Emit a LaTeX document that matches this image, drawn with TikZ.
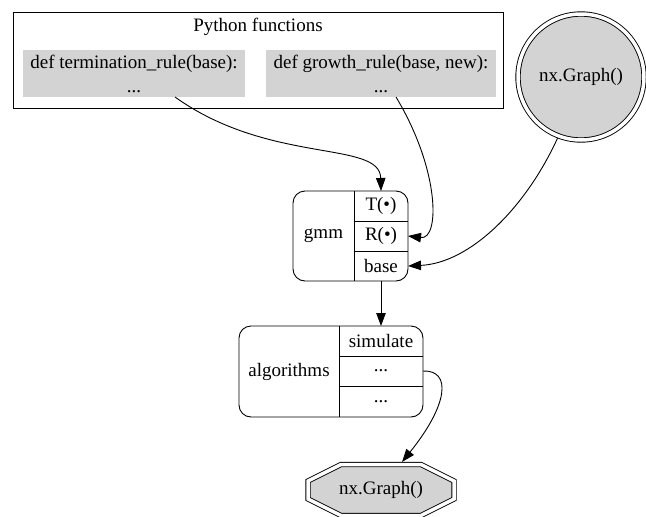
\documentclass[tikz,border=0pt]{standalone}
\usepackage{fontspec}
\setmainfont{Liberation Serif}
\usetikzlibrary{arrows.meta}
\definecolor{gvgray}{RGB}{211,211,211}
\begin{document}
\begin{tikzpicture}[x=1pt,y=-1pt,line width=0.9pt,
  font=\fontsize{19}{24}\selectfont,
  every node/.style={inner sep=0pt,outer sep=0pt},
  funbox/.style={fill=gvgray,align=center,minimum height=47pt},
  recbox/.style={draw,rounded corners=12pt},
  cell/.style={minimum width=#1,minimum height=30pt},
  dbl/.style={draw,double,double distance=3.5pt,fill=gvgray},
  link/.style={-{Triangle[length=13pt,width=9.5pt]}}]
\useasboundingbox (0,0) rectangle (646,517);

% Python functions
\node[draw,minimum width=490pt,minimum height=96pt] (pyfun) at (258,60) {};
\node (pytitle) at (258,27) {Python functions};
\node[funbox,minimum width=222pt] (term) at (134,73.5) {def termination\_rule(base):\\...};
\node[funbox,minimum width=230pt] (grow) at (381,73.5) {def growth\_rule(base, new):\\...};

\node[circle,dbl,minimum size=126pt,outer sep=2.6pt] (graph) at (581,77) {nx.Graph()};

% gmm record
\node[recbox,minimum width=115pt,minimum height=90pt] (gmm) at (350.5,236) {};
\node (gmmlbl) at (323.5,236) {gmm};
\node[cell=54pt] (gmmT) at (381,206) {T(•)};
\node[cell=54pt] (gmmR) at (381,236) {R(•)};
\node[cell=54pt] (gmmB) at (381,266) {base};
\draw (gmmT.north west) -- (gmmB.south west);
\draw (gmmT.south west) -- (gmmT.south east);
\draw (gmmR.south west) -- (gmmR.south east);

% algorithms record
\node[recbox,minimum width=184pt,minimum height=91pt] (alg) at (331,371.5) {};
\node (alglbl) at (289,371.5) {algorithms};
\node[cell=84pt] (algS) at (381,341) {simulate};
\node[cell=84pt] (algM) at (381,371) {...};
\node[cell=84pt] (algN) at (381,401.5) {...};
\draw (algS.north west) -- (algN.south west);
\draw (algS.south west) -- (algS.south east);
\draw (algM.south west) -- (algM.south east);

% result
\draw[dbl] (308,481) -- (341,464.5) -- (421,464.5) -- (454,481) -- (454,499)
  -- (421,515.5) -- (341,515.5) -- (308,499) -- cycle;
\node[minimum width=152pt,minimum height=56pt] (res) at (381,490) {nx.Graph()};

\draw[link] ([xshift=41pt]term.south) .. controls +(95,68) and +(-1,-51) .. (gmmT.north);
\draw[link] ([xshift=15pt]grow.south) .. controls +(44,73) and +(32,4) .. (gmmR.east);
\draw[link] (graph.249) .. controls +(-32,70) and +(62,-3) .. (gmmB.east);
\draw[link] (gmmB.south) -- (algS.north);
\draw[link] (algM.east) .. controls +(29,-1) and +(46,-57) .. ([xshift=21pt]res.north);
\end{tikzpicture}
\end{document}
